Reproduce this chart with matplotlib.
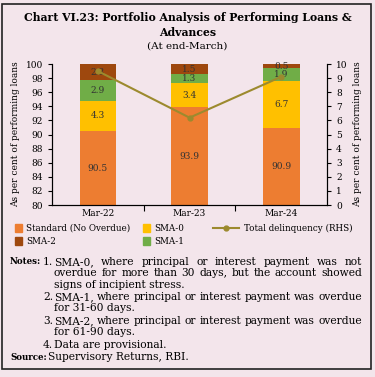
import numpy as np
import matplotlib
matplotlib.use("Agg")
import matplotlib.pyplot as plt
from matplotlib.patches import Rectangle, Patch
from matplotlib.lines import Line2D

years = ["Mar-22", "Mar-23", "Mar-24"]
standard = [90.5, 93.9, 90.9]
sma0 = [4.3, 3.4, 6.7]
sma1 = [2.9, 1.3, 1.9]
sma2 = [2.3, 1.5, 0.5]
total_delinq = [9.5, 6.2, 9.1]

c_std = "#ED7D31"
c_sma0 = "#FFC000"
c_sma1 = "#70AD47"
c_sma2 = "#9E480E"
c_line = "#9C8A2E"
bg = "#F3E5EB"

plt.rcParams["font.family"] = ["DejaVu Serif"]

W, H = 375, 377
fig = plt.figure(figsize=(3.75, 3.77), dpi=100)
fig.patch.set_facecolor(bg)
fig.patches.append(Rectangle((0.006, 0.021), 0.984, 0.969, transform=fig.transFigure,
                             fill=False, edgecolor="#222222", lw=1.2))

fig.text(0.5, 0.953, "Chart VI.23: Portfolio Analysis of Performing Loans &",
         ha="center", va="center", fontsize=7.8, fontweight="bold")
fig.text(0.5, 0.913, "Advances", ha="center", va="center", fontsize=7.8, fontweight="bold")
fig.text(0.5, 0.878, "(At end-March)", ha="center", va="center", fontsize=7.5)

ax = fig.add_axes([0.139, 0.456, 0.733, 0.374])
ax.set_facecolor(bg)
x = np.arange(len(years))
w = 0.4
bottom = np.zeros(3)
for vals, col in [(standard, c_std), (sma0, c_sma0), (sma1, c_sma1), (sma2, c_sma2)]:
    vals = np.array(vals)
    ax.bar(x, vals, w, bottom=bottom, color=col, zorder=2)
    for xi, b, v in zip(x, bottom, vals):
        lo = max(b, 80)
        hi = min(b + v, 100)
        mid = min((lo + hi) / 2, 99.6)
        ax.text(xi, mid, f"{v:.1f}", ha="center", va="center", fontsize=6.5,
                color="#333333", zorder=3)
    bottom = bottom + vals

ax.set_ylim(80, 100)
ax.set_yticks(np.arange(80, 101, 2))
ax.set_xlim(-0.5, 2.5)
ax.set_xticks(x)
ax.set_xticklabels(years)
ax.set_xticks([0.5, 1.5], minor=True)
ax.tick_params(axis="x", which="major", length=0, labelsize=6.5, pad=3)
ax.tick_params(axis="x", which="minor", length=4, width=0.8, direction="out")
ax.tick_params(axis="y", labelsize=6.5, length=3, width=0.8)
ax.spines["top"].set_visible(False)
ax.set_ylabel("As per cent of performing loans", fontsize=6.5, labelpad=4)

ax2 = ax.twinx()
ax2.plot(x, total_delinq, color=c_line, lw=1.5, marker="o", ms=3.5, zorder=4)
ax2.set_ylim(0, 10)
ax2.set_yticks(np.arange(0, 11, 1))
ax2.tick_params(axis="y", labelsize=6.5, length=3, width=0.8)
ax2.spines["top"].set_visible(False)
ax2.set_ylabel("As per cent of performing loans", fontsize=6.5, rotation=90, labelpad=4)

# legend, built as three columns placed where the source has them
leg_cols = [
    (15, [Patch(color=c_std), Patch(color=c_sma2)], ["Standard (No Overdue)", "SMA-2"]),
    (143, [Patch(color=c_sma0), Patch(color=c_sma1)], ["SMA-0", "SMA-1"]),
    (213, [Line2D([], [], color=c_line, lw=1.5, marker="o", ms=3.5)],
     ["Total delinquency (RHS)"]),
]
for xp, hs, ls in leg_cols:
    fig.legend(hs, ls, loc="upper left", bbox_to_anchor=(xp / W, 1 - 224 / H),
               frameon=False, fontsize=6.3, handlelength=0.8 if len(hs) > 1 else 3.0,
               handleheight=0.9, labelspacing=0.45, handletextpad=0.5,
               borderpad=0, borderaxespad=0)

# notes, justified like the source
fs = 7.7
renderer = fig.canvas.get_renderer()


def put(xp, yp, t, bold=False):
    return fig.text(xp / W, 1 - yp / H, t, fontsize=6.2 if bold else fs, va="center",
                    fontweight="bold" if bold else "normal")


def justify(x0, x1, yp, t):
    words = t.split()
    arts = [put(x0, yp, wd) for wd in words]
    widths = [a.get_window_extent(renderer).width for a in arts]
    gap = (x1 - x0 - sum(widths)) / (len(words) - 1)
    xp = x0
    for a, wd in zip(arts, widths):
        a.set_x(xp / W)
        xp += wd + gap


put(10, 262, "Notes:", bold=True)
put(43, 262, "1.")
justify(54, 362, 262, "SMA-0, where principal or interest payment was not")
justify(54, 362, 273, "overdue for more than 30 days, but the account showed")
put(54, 285, "signs of incipient stress.")
put(43, 297, "2.")
justify(54, 362, 297, "SMA-1, where principal or interest payment was overdue")
put(54, 308, "for 31-60 days.")
put(43, 321, "3.")
justify(54, 362, 321, "SMA-2, where principal or interest payment was overdue")
put(54, 332, "for 61-90 days.")
put(43, 345, "4.")
put(54, 345, "Data are provisional.")
put(10, 357, "Source:", bold=True)
put(48, 357, "Supervisory Returns, RBI.")

fig.savefig("out.png", dpi=100, facecolor=bg)
